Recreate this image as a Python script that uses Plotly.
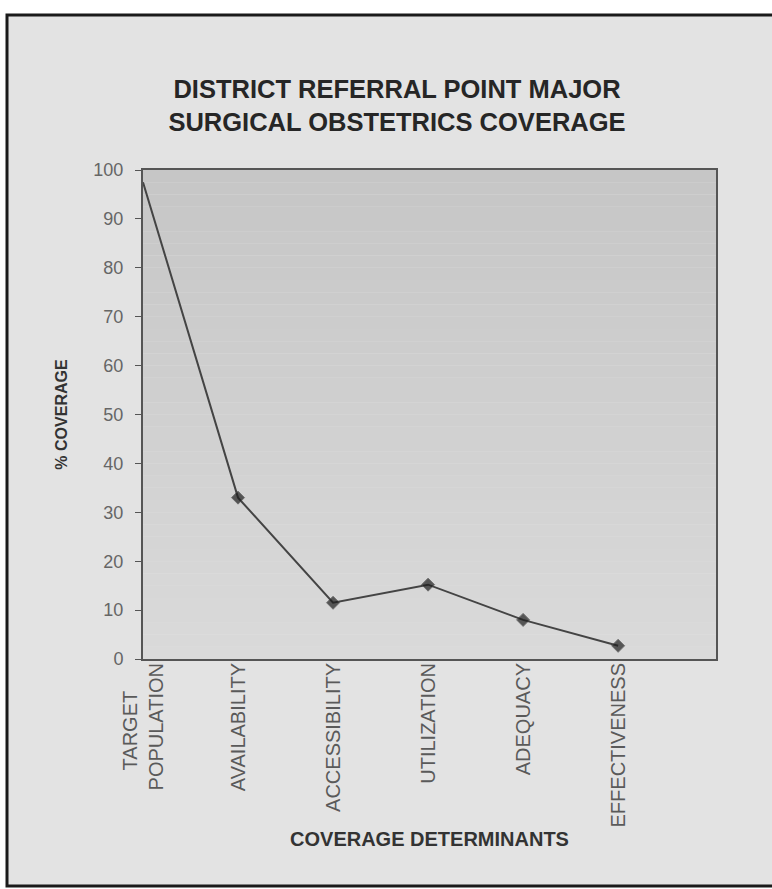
import plotly.graph_objects as go

categories = ["TARGET&nbsp;&nbsp;&nbsp;&nbsp;&nbsp;<br>POPULATION", "AVAILABILITY", "ACCESSIBILITY", "UTILIZATION", "ADEQUACY", "EFFECTIVENESS"]
coverage = [97.5, 33.0, 11.5, 15.2, 8.0, 2.7]
y_ticks = [0, 10, 20, 30, 40, 50, 60, 70, 80, 90, 100]

W, H = 772, 889
L, R, T, B = 143, 56, 170, 230
PW, PH = W - L - R, H - T - B

fig = go.Figure()
fig.add_trace(go.Scatter(
    x=list(range(len(categories))), y=coverage, mode="lines+markers",
    line=dict(color="#444444", width=2),
    marker=dict(symbol="diamond", size=[0, 10, 10, 10, 10, 10], color="#1e1e1e"),
    cliponaxis=False, showlegend=False, hoverinfo="skip",
))

shapes = []
# outer frame
shapes.append(dict(type="rect", xref="paper", yref="paper",
                   x0=(7 - L) / PW, x1=1.2,
                   y0=-(B - 3) / PH, y1=1 + (T - 15) / PH,
                   line=dict(color="#1a1a1a", width=3), fillcolor="#e3e3e3", layer="below"))
# plot area gradient
n = 40
top_c, bot_c = (198, 198, 198), (218, 218, 218)
for i in range(n):
    f = i / (n - 1)
    c = tuple(int(round(top_c[k] + (bot_c[k] - top_c[k]) * f)) for k in range(3))
    shapes.append(dict(type="rect", xref="paper", yref="paper", x0=0, x1=1,
                       y0=1 - (i + 1) / n, y1=1 - i / n, line=dict(width=0),
                       fillcolor="rgb(%d,%d,%d)" % c, layer="below"))

font = "Liberation Sans, Arial"
fig.update_layout(
    width=W, height=H, margin=dict(l=L, r=R, t=T, b=B),
    paper_bgcolor="white", plot_bgcolor="rgba(0,0,0,0)",
    shapes=shapes,
    title=dict(text="<b>DISTRICT REFERRAL POINT MAJOR<br>SURGICAL OBSTETRICS COVERAGE</b>",
               x=(397 - L) / PW, xref="paper", xanchor="center", y=1 - 98 / H, yanchor="top",
               font=dict(family=font, size=25.5, color="#262626")),
    xaxis=dict(
        range=[0, 6.03], tickmode="array", tickvals=list(range(len(categories))), ticktext=categories,
        tickangle=-90, showgrid=False, zeroline=False, showline=True, mirror=True,
        linecolor="#555555", linewidth=2, ticks="", ticklabelstandoff=-6,
        tickfont=dict(family=font, size=20, color="#5a5a5a"),
        title=dict(text="<b>COVERAGE DETERMINANTS</b>",
                   standoff=6, font=dict(family=font, size=20, color="#333333")),
    ),
    yaxis=dict(
        range=[0, 100], tickmode="array", tickvals=y_ticks, showgrid=False, zeroline=False,
        showline=True, mirror=True, linecolor="#555555", linewidth=2,
        ticks="outside", ticklen=6, tickcolor="#555555", tickwidth=1, ticklabelstandoff=8,
        tickfont=dict(family=font, size=18, color="#666666"),
        title=dict(text="<b>% COVERAGE</b>", standoff=22,
                   font=dict(family=font, size=16, color="#333333")),
    ),
)
fig.write_html("out.html", config={"displayModeBar": False},
               post_script="document.body.style.margin='0';")
